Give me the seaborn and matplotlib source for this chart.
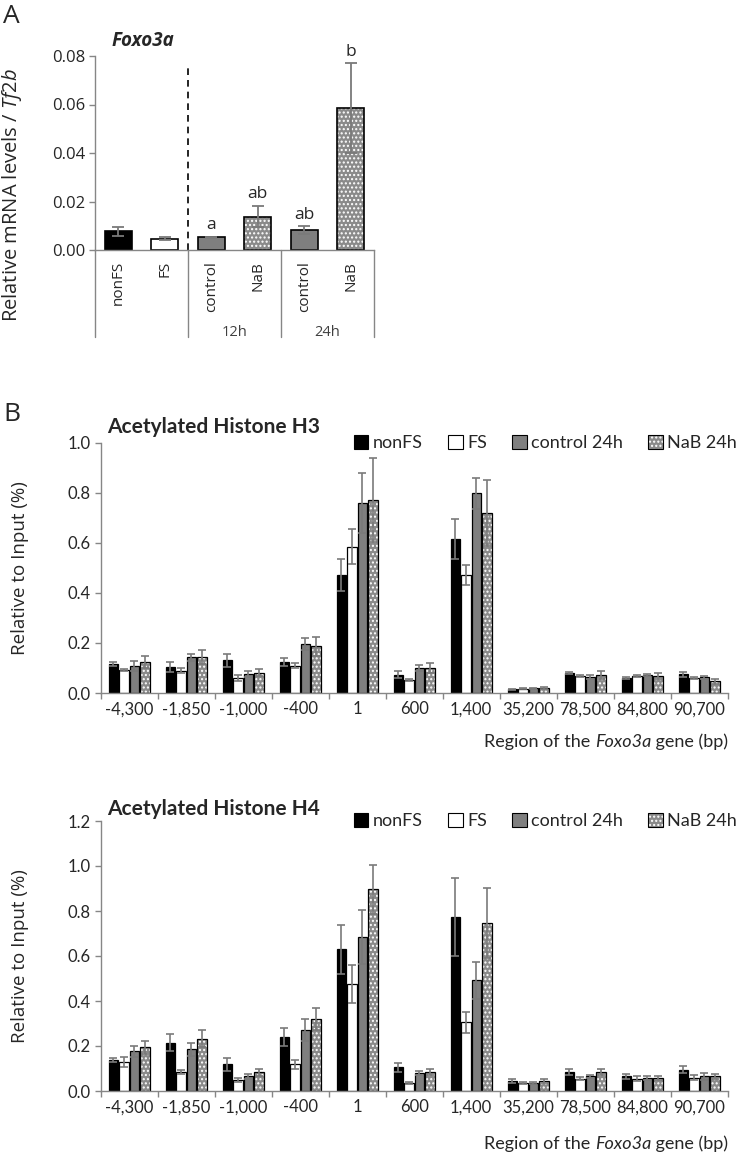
import numpy as np
import pandas as pd
import seaborn as sns
import matplotlib
matplotlib.use("Agg")
import matplotlib.pyplot as plt
from matplotlib.patches import Rectangle, Patch
from matplotlib.ticker import FormatStrFormatter

W, H = 738, 1161

# ---------------- data ----------------
a_ids = ["nonFS", "FS", "control 12h", "NaB 12h", "control 24h", "NaB 24h"]
a_labels = ["nonFS", "FS", "control", "NaB", "control", "NaB"]
a_values = [0.0077, 0.0047, 0.0052, 0.0137, 0.0082, 0.0586]
a_errors = [0.0018, 0.0005, 0.0003, 0.0044, 0.0015, 0.0184]
a_letters = ["", "", "a", "ab", "ab", "b"]
a_times = ["12h", "24h"]

regions = ["-4,300", "-1,850", "-1,000", "-400", "1", "600", "1,400",
           "35,200", "78,500", "84,800", "90,700"]
groups = ["nonFS", "FS", "control 24h", "NaB 24h"]

h3_nonfs = [0.116, 0.105, 0.131, 0.125, 0.472, 0.073, 0.615, 0.015, 0.081, 0.060, 0.075]
h3_fs = [0.093, 0.089, 0.059, 0.109, 0.585, 0.053, 0.471, 0.018, 0.069, 0.067, 0.061]
h3_ctrl = [0.109, 0.143, 0.076, 0.197, 0.759, 0.100, 0.799, 0.019, 0.064, 0.073, 0.063]
h3_nab = [0.124, 0.145, 0.081, 0.187, 0.772, 0.099, 0.719, 0.021, 0.071, 0.068, 0.047]
h3_nonfs_err = [0.007, 0.020, 0.026, 0.015, 0.063, 0.014, 0.080, 0.003, 0.004, 0.004, 0.009]
h3_fs_err = [0.004, 0.010, 0.012, 0.010, 0.070, 0.004, 0.040, 0.002, 0.003, 0.004, 0.004]
h3_ctrl_err = [0.019, 0.014, 0.013, 0.024, 0.120, 0.011, 0.061, 0.002, 0.009, 0.004, 0.006]
h3_nab_err = [0.025, 0.028, 0.014, 0.037, 0.167, 0.020, 0.132, 0.003, 0.016, 0.012, 0.010]

h4_nonfs = [0.138, 0.215, 0.119, 0.239, 0.630, 0.105, 0.775, 0.045, 0.085, 0.065, 0.095]
h4_fs = [0.129, 0.085, 0.050, 0.119, 0.476, 0.035, 0.305, 0.035, 0.055, 0.055, 0.060]
h4_ctrl = [0.176, 0.185, 0.065, 0.270, 0.686, 0.080, 0.492, 0.035, 0.065, 0.058, 0.065]
h4_nab = [0.194, 0.233, 0.083, 0.321, 0.896, 0.085, 0.747, 0.045, 0.085, 0.058, 0.065]
h4_nonfs_err = [0.009, 0.038, 0.029, 0.040, 0.109, 0.020, 0.173, 0.008, 0.015, 0.012, 0.015]
h4_fs_err = [0.021, 0.008, 0.008, 0.020, 0.083, 0.005, 0.045, 0.005, 0.008, 0.010, 0.012]
h4_ctrl_err = [0.025, 0.030, 0.010, 0.049, 0.120, 0.010, 0.083, 0.005, 0.008, 0.007, 0.015]
h4_nab_err = [0.030, 0.038, 0.016, 0.049, 0.110, 0.015, 0.157, 0.010, 0.012, 0.008, 0.012]

# ---------------- style ----------------
sns.set_theme(style="ticks")
plt.rcParams["font.family"] = ["Open Sans", "DejaVu Sans"]
plt.rcParams["hatch.linewidth"] = 1.0
plt.rcParams["mathtext.fontset"] = "custom"
plt.rcParams["mathtext.rm"] = "Open Sans"
plt.rcParams["mathtext.it"] = "Open Sans:italic"
NARROW = ["Lato", "DejaVu Sans"]

BLACK = "#000000"
GRAY = "#7f7f7f"
HATCHBG = "#8a8a8a"
AXC = "#868686"
ERRC = "#7a7a7a"
HATCH = "...."

fig = plt.figure(figsize=(W / 100, H / 100), dpi=100)


def rect(l, t, r, b):
    return [l / W, 1 - b / H, (r - l) / W, (b - t) / H]


def hatch_patch(ax, p, lw):
    p.set_facecolor(HATCHBG)
    p.set_edgecolor("white")
    p.set_hatch(HATCH)
    p.set_linewidth(0)
    ax.add_patch(Rectangle(p.get_xy(), p.get_width(), p.get_height(),
                           fill=False, edgecolor="black", linewidth=lw, zorder=p.get_zorder() + 0.1))


# ================= Panel A =================
axA = fig.add_axes(rect(95, 56, 374, 250))
dfA = pd.DataFrame({"id": a_ids, "value": a_values})
palA = {"nonFS": BLACK, "FS": "white", "control 12h": GRAY, "NaB 12h": HATCHBG,
        "control 24h": GRAY, "NaB 24h": HATCHBG}
sns.barplot(data=dfA, x="id", y="value", hue="id", order=a_ids, hue_order=a_ids,
            palette=palA, width=0.59, edgecolor="black", linewidth=1.2,
            legend=False, errorbar=None, ax=axA)
pA = sorted(axA.patches, key=lambda p: p.get_x())
for i, p in enumerate(pA):
    if a_ids[i].startswith("NaB"):
        hatch_patch(axA, p, 1.2)
cA = [p.get_x() + p.get_width() / 2 for p in pA]
axA.errorbar(cA, a_values, yerr=a_errors, fmt="none", ecolor=ERRC,
             elinewidth=1.3, capsize=4, capthick=1.3, zorder=5)
for c, v, e, t in zip(cA, a_values, a_errors, a_letters):
    if t:
        axA.text(c, v + e + 0.0015, t, ha="center", va="bottom", fontsize=12.5)

axA.set_ylim(0, 0.08)
axA.set_xlim(-0.5, 5.5)
axA.set_yticks([0, 0.02, 0.04, 0.06, 0.08])
axA.yaxis.set_major_formatter(FormatStrFormatter("%.2f"))
axA.set_xticks(range(len(a_labels)))
axA.set_xticklabels(a_labels, rotation=90, fontsize=11)
axA.tick_params(axis="x", length=0, pad=8)
axA.tick_params(axis="y", length=4, width=1, color=AXC, labelsize=12, pad=3)
axA.set_xlabel("")
axA.set_ylabel("")
sns.despine(ax=axA)
for s in ("left", "bottom"):
    axA.spines[s].set_color(AXC)
    axA.spines[s].set_linewidth(1)
# dashed separator
axA.plot([1.5, 1.5], [0, 0.0755], ls=(0, (4, 3)), color="black", lw=1.2)
# lines of the category table below the axis
for xv in (-0.5, 1.5, 3.5, 5.5):
    axA.plot([xv, xv], [0, -0.45], color=AXC, lw=1,
             transform=axA.get_xaxis_transform(), clip_on=False)
for xv, t in zip((2.5, 4.5), a_times):
    axA.text(xv, -0.425, t, ha="center", va="center", fontsize=10.5, color="#404040",
             transform=axA.get_xaxis_transform())

fig.text(3 / W, 1 - 4 / H, "A", fontsize=19, ha="left", va="top")
fig.text(112 / W, 1 - 41 / H, "Foxo3a", fontsize=13.5, fontweight="bold",
         fontstyle="italic", ha="left", va="center")
fig.text(12 / W, 1 - 195 / H, r"Relative mRNA levels / $\mathit{Tf2b}$",
         fontsize=14.5, rotation=90, ha="center", va="center")

# ================= Panel B =================
def panel_b(top, bottom, ymax, vals, errs, title, title_y, xlab_y):
    ax = fig.add_axes(rect(100.7, top, 727.7, bottom))
    rows = []
    for g, vs in zip(groups, vals):
        for r, v in zip(regions, vs):
            rows.append({"region": r, "group": g, "value": v})
    df = pd.DataFrame(rows)
    pal = {"nonFS": BLACK, "FS": "white", "control 24h": GRAY, "NaB 24h": HATCHBG}
    sns.barplot(data=df, x="region", y="value", hue="group", order=regions,
                hue_order=groups, palette=pal, width=0.74, gap=0.12,
                edgecolor="black", linewidth=0.9, legend=False, errorbar=None, ax=ax)
    ps = sorted(ax.patches, key=lambda p: p.get_x())
    flat_v, flat_e, cx = [], [], []
    for ri in range(len(regions)):
        for gi in range(len(groups)):
            p = ps[ri * len(groups) + gi]
            if gi == 3:
                hatch_patch(ax, p, 0.9)
            cx.append(p.get_x() + p.get_width() / 2)
            flat_v.append(vals[gi][ri])
            flat_e.append(errs[gi][ri])
    ax.errorbar(cx, flat_v, yerr=flat_e, fmt="none", ecolor=ERRC,
                elinewidth=1.2, capsize=3, capthick=1.2, zorder=5)
    ax.set_ylim(0, ymax)
    ax.set_xlim(-0.5, len(regions) - 0.5)
    ax.set_yticks(np.arange(0, ymax + 0.001, 0.2))
    ax.yaxis.set_major_formatter(FormatStrFormatter("%.1f"))
    ax.set_xticks(range(len(regions)))
    ax.set_xticklabels(regions, fontsize=12, family=NARROW)
    for lab in ax.get_yticklabels():
        lab.set_family(NARROW)
        lab.set_fontsize(12)
    ax.tick_params(axis="x", length=0, pad=6)
    ax.tick_params(axis="y", length=4, width=1, color=AXC, pad=3)
    ax.set_xticks(np.arange(-0.5, len(regions), 1.0), minor=True)
    ax.tick_params(axis="x", which="minor", length=4, width=1, color=AXC, bottom=True)
    ax.set_xlabel("")
    ax.set_ylabel("")
    sns.despine(ax=ax)
    for s in ("left", "bottom"):
        ax.spines[s].set_color(AXC)
        ax.spines[s].set_linewidth(1)
    # title
    fig.text(107 / W, 1 - title_y / H, title, fontsize=15, fontweight="bold",
             family=NARROW, ha="left", va="baseline")
    # y label
    fig.text(20 / W, 1 - (top + bottom) / 2 / H, "Relative to Input (%)",
             fontsize=13.5, rotation=90, ha="center", va="center")
    # legend
    handles = [Patch(facecolor=BLACK, edgecolor="black", lw=0.8),
               Patch(facecolor="white", edgecolor="black", lw=0.8),
               Patch(facecolor=GRAY, edgecolor="black", lw=0.8),
               (Patch(facecolor=HATCHBG, edgecolor="white", hatch=HATCH, lw=0),
                Patch(fill=False, edgecolor="black", lw=0.8))]
    fig.legend(handles, groups, ncol=4, loc="center right",
               bbox_to_anchor=(737 / W, 1 - (top + 0) / H), frameon=False,
               handlelength=0.8, handleheight=0.8, handletextpad=0.25,
               columnspacing=1.4, borderpad=0, borderaxespad=0,
               prop={"family": NARROW, "size": 13})
    # x label with italic gene name, right aligned
    t3 = fig.text(728 / W, 1 - xlab_y / H, " gene (bp)", fontsize=13, family=NARROW,
                  ha="right", va="bottom")
    a2 = ax.annotate("Foxo3a", xy=(0, 0), xycoords=t3, ha="right", va="bottom",
                     fontsize=13, family=NARROW, style="italic", annotation_clip=False)
    ax.annotate("Region of the ", xy=(0, 0), xycoords=a2, ha="right", va="bottom",
                fontsize=13, family=NARROW, annotation_clip=False)
    return ax


axH3 = panel_b(443, 693, 1.0, [h3_nonfs, h3_fs, h3_ctrl, h3_nab],
               [h3_nonfs_err, h3_fs_err, h3_ctrl_err, h3_nab_err],
               "Acetylated Histone H3", 433, 750)
axH4 = panel_b(821, 1091, 1.2, [h4_nonfs, h4_fs, h4_ctrl, h4_nab],
               [h4_nonfs_err, h4_fs_err, h4_ctrl_err, h4_nab_err],
               "Acetylated Histone H4", 815, 1152)
fig.text(3 / W, 1 - 402 / H, "B", fontsize=19, ha="left", va="top")

fig.savefig("out.png", dpi=100)
